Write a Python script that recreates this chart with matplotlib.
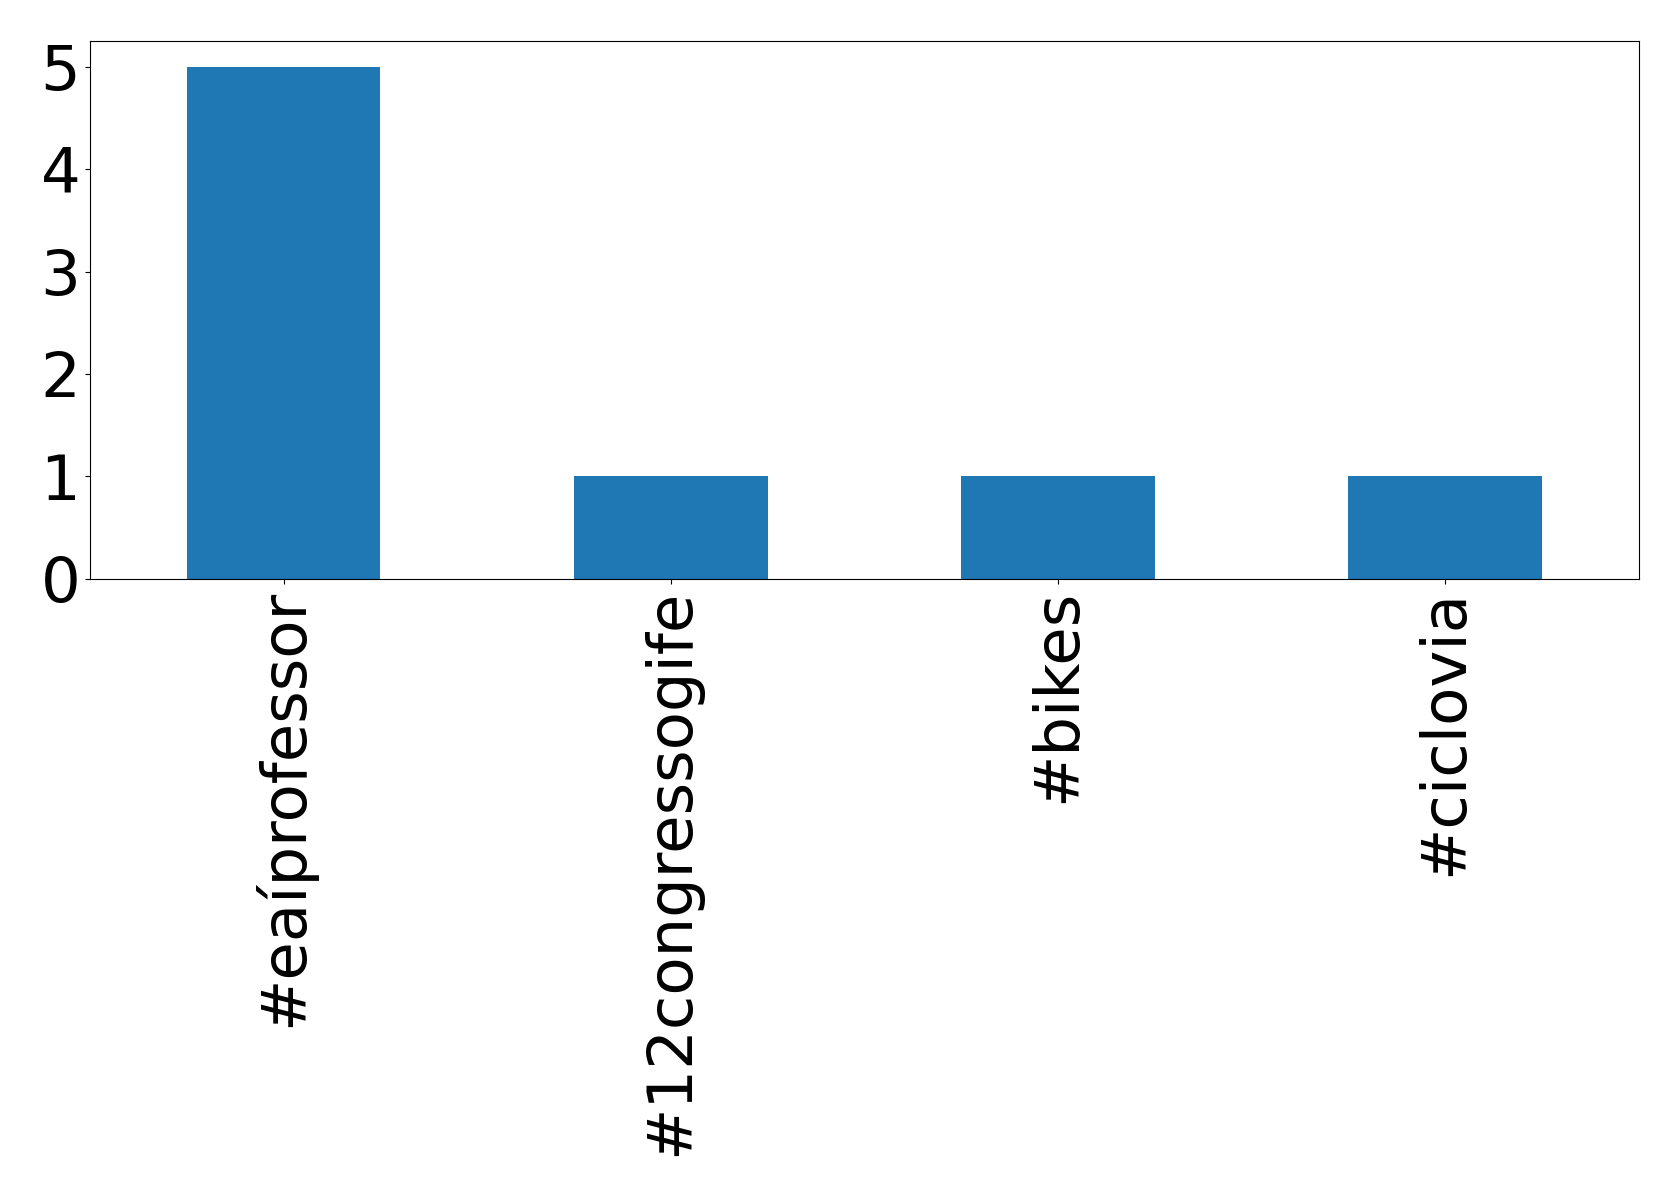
import matplotlib
matplotlib.use("Agg")
import matplotlib.pyplot as plt

categories = ["#eaíprofessor", "#12congressogife", "#bikes", "#ciclovia"]
counts = [5, 1, 1, 1]

fig = plt.figure(figsize=(16.79, 11.96), dpi=100)
ax = fig.add_axes([0.0536, 0.516, 0.9224, 0.4497])
x = range(len(categories))
ax.bar(x, counts, width=0.5, color="#1f77b4")
ax.set_xlim(-0.5, len(categories) - 0.5)
ax.set_ylim(0, 5.25)
ax.set_xticks(list(x))
ax.set_xticklabels(categories, rotation=90, fontsize=45)
ax.set_yticks([0, 1, 2, 3, 4, 5])
ax.tick_params(axis="y", labelsize=45)
fig.savefig("out.png", dpi=100)
